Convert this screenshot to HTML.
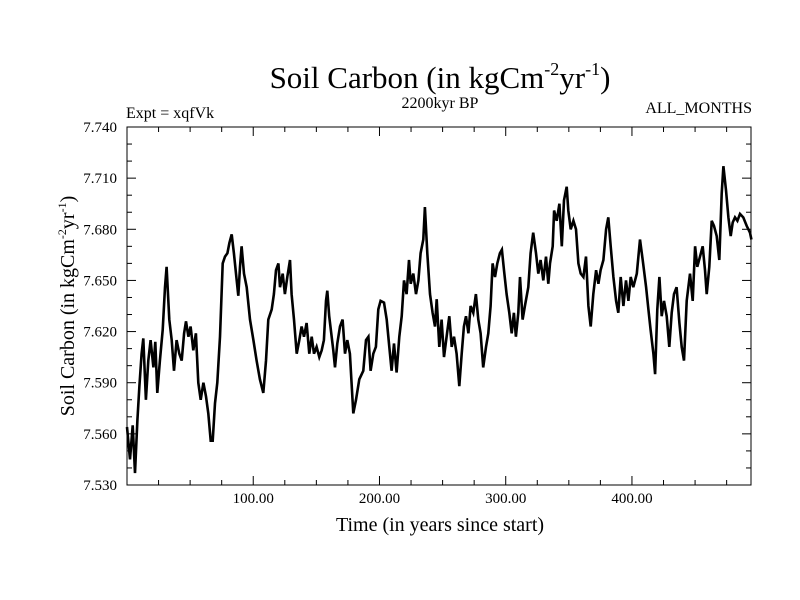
<!DOCTYPE html>
<html><head><meta charset="utf-8"><style>
body{margin:0;background:#fff}
svg{display:block;font-family:"Liberation Serif",serif}
</style></head><body>
<svg id="chart" width="800" height="600">
<text x="440" y="88" font-size="31" text-anchor="middle">Soil Carbon (in kgCm<tspan font-size="18" dy="-13">-2</tspan><tspan dy="13">yr</tspan><tspan font-size="18" dy="-13">-1</tspan><tspan dy="13">)</tspan></text>
<text x="126" y="118" font-size="16">Expt = xqfVk</text>
<text x="440" y="108" font-size="16" text-anchor="middle">2200kyr BP</text>
<text x="752" y="113" font-size="16" text-anchor="end">ALL_MONTHS</text>
<text x="440" y="531" font-size="20" text-anchor="middle">Time (in years since start)</text>
<text transform="translate(74,306) rotate(-90)" font-size="20" text-anchor="middle">Soil Carbon (in kgCm<tspan font-size="12" dy="-8">-2</tspan><tspan dy="8">yr</tspan><tspan font-size="12" dy="-8">-1</tspan><tspan dy="8">)</tspan></text>
<g id="ticks"></g>
<rect x="127" y="127" width="624" height="358" fill="none" stroke="#000" stroke-width="1"/>
<path id="series" fill="none" stroke="#000" stroke-width="2.6" stroke-linejoin="miter"/>
</svg>
<script>
const years=[0,2.4,4.5,6.3,8.2,9.8,11.6,12.9,15.0,16.9,18.7,20.9,22.4,24.0,26.1,28.3,30.1,31.4,33.5,35.4,37.2,39.3,41.4,43.3,45.2,46.7,48.6,50.4,52.5,54.6,56.5,58.4,60.5,62.6,64.4,66.3,67.9,69.7,71.5,73.7,75.8,77.6,79.5,81.1,82.9,84.7,86.9,88.2,89.5,90.8,92.7,94.8,97.4,100.1,102.7,105.3,108.0,110.1,111.9,114.6,116.4,118.0,119.9,121.2,123.3,125.1,127.0,129.1,130.4,132.3,134.4,136.5,138.3,140.2,142.3,144.4,146.3,148.1,150.2,152.3,154.2,156.0,157.6,158.7,160.2,
163.4,164.8,166.6,168.7,170.8,172.7,174.5,176.6,179.3,181.4,184.0,187.2,189.3,191.2,193.0,195.1,197.2,199.1,200.9,203.6,205.7,207.8,209.6,211.5,213.6,215.7,217.6,219.4,221.5,223.4,224.7,226.8,228.9,230.8,232.6,234.7,236.0,237.9,240.0,242.1,244.0,245.3,247.4,249.2,251.1,253.2,255.3,257.2,259.0,261.1,263.2,265.1,266.9,268.5,270.4,272.2,274.3,276.4,278.3,280.1,282.2,284.4,286.2,288.0,289.6,291.5,293.3,295.4,297.0,298.6,300.7,302.8,304.7,306.5,308.1,310.0,311.3,313.4,315.2,317.9,319.7,321.8,324.0,325.8,327.6,329.8,331.9,333.7,
335.1,337.2,338.3,340.4,342.5,344.4,346.2,348.3,349.6,351.5,353.6,355.7,357.6,359.4,361.5,363.6,365.5,367.3,369.4,371.6,373.4,375.2,377.4,379.5,381.3,383.2,385.3,387.4,389.2,391.1,393.2,395.3,397.2,399.0,401.1,403.8,406.4,408.5,411.2,413.0,414.8,417.0,418.3,420.1,421.7,423.6,425.4,427.5,429.6,431.5,433.3,435.4,437.6,439.4,441.2,443.4,446.0,448.1,450.0,451.8,453.9,456.0,457.9,459.2,461.3,463.2,465.0,467.1,469.2,471.1,472.4,474.5,476.4,478.2,479.8,481.6,483.5,485.6,488.2,490.9,493.5,494.6];
const carbon=[7.564,7.545,7.565,7.537,7.568,7.588,7.607,7.616,7.580,7.603,7.615,7.599,7.614,7.584,7.603,7.621,7.646,7.658,7.627,7.615,7.597,7.615,7.607,7.603,7.619,7.626,7.617,7.623,7.609,7.619,7.590,7.580,7.590,7.582,7.572,7.556,7.556,7.578,7.590,7.617,7.660,7.664,7.666,7.672,7.677,7.666,7.650,7.641,7.658,7.670,7.654,7.646,7.627,7.615,7.603,7.592,7.584,7.603,7.627,7.633,7.642,7.656,7.660,7.646,7.654,7.642,7.652,7.662,7.642,7.627,7.607,7.615,7.623,7.617,7.625,7.607,7.617,7.607,7.611,7.605,7.609,7.615,7.638,7.644,7.629,
7.609,7.599,7.613,7.623,7.627,7.607,7.615,7.607,7.572,7.580,7.592,7.597,7.615,7.617,7.597,7.607,7.611,7.633,7.638,7.637,7.627,7.611,7.597,7.613,7.596,7.617,7.629,7.650,7.642,7.662,7.648,7.654,7.642,7.650,7.666,7.674,7.693,7.666,7.642,7.631,7.623,7.639,7.611,7.627,7.605,7.617,7.629,7.611,7.617,7.607,7.588,7.607,7.623,7.629,7.619,7.635,7.631,7.642,7.627,7.619,7.599,7.611,7.619,7.635,7.660,7.652,7.660,7.666,7.668,7.656,7.642,7.631,7.619,7.631,7.617,7.631,7.652,7.627,7.635,7.646,7.666,7.678,7.666,7.654,7.662,7.650,7.664,7.648,
7.660,7.670,7.691,7.685,7.695,7.670,7.697,7.705,7.691,7.680,7.685,7.680,7.660,7.654,7.652,7.664,7.635,7.623,7.642,7.656,7.648,7.656,7.662,7.680,7.687,7.670,7.652,7.638,7.631,7.652,7.635,7.650,7.638,7.652,7.646,7.654,7.674,7.662,7.646,7.633,7.621,7.607,7.595,7.633,7.652,7.629,7.638,7.629,7.611,7.631,7.642,7.646,7.625,7.611,7.603,7.638,7.654,7.638,7.670,7.658,7.664,7.670,7.656,7.642,7.658,7.685,7.682,7.676,7.662,7.701,7.717,7.703,7.687,7.676,7.684,7.687,7.685,7.689,7.687,7.682,7.678,7.674];
const xTickLabels=["100.00","200.00","300.00","400.00"];
const xTickValues=[100,200,300,400];
const yTickLabels=["7.530","7.560","7.590","7.620","7.650","7.680","7.710","7.740"];
const yTickValues=[7.53,7.56,7.59,7.62,7.65,7.68,7.71,7.74];

const L=127,R=751,T=127,B=485,X0=0,X1=494.3,Y0=7.53,Y1=7.74;
const xs=v=>L+(v-X0)/(X1-X0)*(R-L);
const ys=v=>B-(v-Y0)/(Y1-Y0)*(B-T);
const NS="http://www.w3.org/2000/svg";
const g=document.getElementById('ticks');
function line(x1,y1,x2,y2,name){const l=document.createElementNS(NS,'line');l.setAttribute('x1',x1);l.setAttribute('y1',y1);l.setAttribute('x2',x2);l.setAttribute('y2',y2);l.setAttribute('stroke','#000');l.setAttribute('stroke-width','1');


g.appendChild(l);}
function text(x,y,s,anchor,name){const t=document.createElementNS(NS,'text');t.setAttribute('x',x);t.setAttribute('y',y);t.setAttribute('font-size','15');t.setAttribute('text-anchor',anchor);t.textContent=s;


g.appendChild(t);}
for(let v=25;v<X1;v+=25){const x=xs(v);const len=(v%100===0)?9:5;line(x,B,x,B-len,'x-tick');line(x,T,x,T+len,'x-tick-top');}
xTickValues.forEach((v,i)=>text(xs(v),503,xTickLabels[i],'middle','x-tick-label'));
for(let k=0;k<=21;k++){const v=Y0+k*0.01;const y=ys(v);const len=(k%3===0)?9:5;line(L,y,L+len,y,'y-tick');line(R,y,R-len,y,'y-tick-right');}
yTickValues.forEach((v,i)=>text(117,ys(v)+5,yTickLabels[i],'end','y-tick-label'));
let d='';years.forEach((yr,i)=>{d+=(i?'L':'M')+xs(yr).toFixed(1)+','+ys(carbon[i]).toFixed(1);});
document.getElementById('series').setAttribute('d',d);
</script>
</body></html>
